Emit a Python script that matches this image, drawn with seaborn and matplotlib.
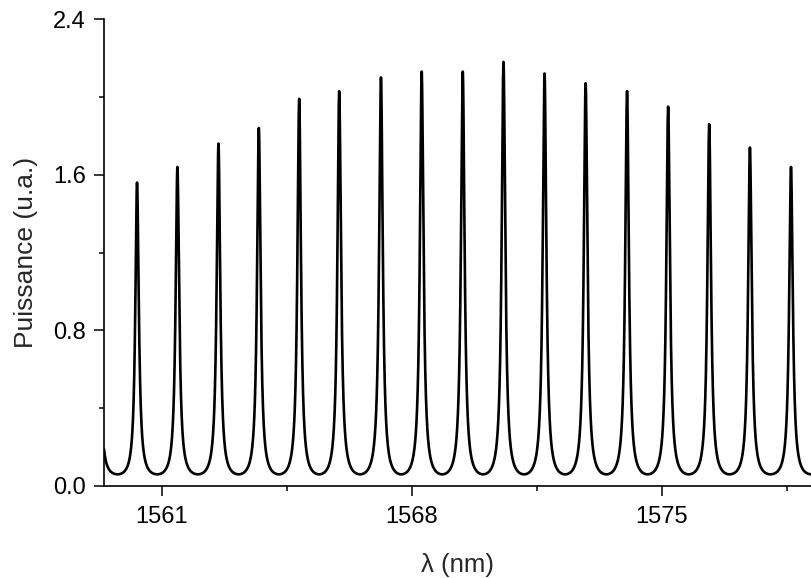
import numpy as np
import pandas as pd
import matplotlib
matplotlib.use("Agg")
import matplotlib.pyplot as plt
from matplotlib.ticker import FixedLocator
import seaborn as sns

# ---- data ----
peak_wavelengths = [1559.22, 1560.31, 1561.44, 1562.59, 1563.72, 1564.85, 1565.97,
                    1567.14, 1568.28, 1569.43, 1570.57, 1571.72, 1572.87, 1574.03,
                    1575.18, 1576.33, 1577.47, 1578.62, 1579.77]
peak_heights = [1.45, 1.56, 1.64, 1.76, 1.84, 1.99, 2.03, 2.10, 2.13, 2.13, 2.18,
                2.12, 2.07, 2.03, 1.95, 1.86, 1.74, 1.64, 1.55]
trough_level = 0.06
finesse_coef = 36.0
x_major_ticks = [1561, 1568, 1575]
x_minor_ticks = [1564.5, 1571.5, 1578.5]
y_major_ticks = [0.0, 0.8, 1.6, 2.4]
y_tick_labels = ["0.0", "0.8", "1.6", "2.4"]
y_minor_ticks = [0.4, 1.2, 2.0]
x_limits = (1559.385, 1579.18)
y_limits = (0.0, 2.4)

# ---- Fabry-Perot style spectrum from the measured peaks ----
p = np.array(peak_wavelengths)
h = np.array(peak_heights)
lam = np.linspace(x_limits[0], x_limits[1], 6000)
k = np.abs(lam[:, None] - p[None, :]).argmin(axis=1)
d = lam - p[k]
right_half = np.append(np.diff(p), np.diff(p)[-1]) / 2
left_half = np.insert(np.diff(p), 0, np.diff(p)[0]) / 2
half = np.where(d >= 0, right_half[k], left_half[k])
s2 = np.sin(np.pi / 2 * d / half) ** 2
airy = 1.0 / (1.0 + finesse_coef * s2)
amin = 1.0 / (1.0 + finesse_coef)
shape = (airy - amin) / (1.0 - amin)
power = trough_level + (h[k] - trough_level) * shape
df = pd.DataFrame({"lam": lam, "power": power})

sns.set_style("ticks")
plt.rcParams["font.family"] = ["Liberation Sans", "DejaVu Sans"]

fig = plt.figure(figsize=(8.11, 5.78), dpi=100)
ax = fig.add_axes([104 / 811, 92 / 578, (811 - 104) / 811, (486 - 19) / 578])
sns.lineplot(data=df, x="lam", y="power", ax=ax, color="black", linewidth=1.9,
             estimator=None, sort=False)

ax.set_xlim(*x_limits)
ax.set_ylim(*y_limits)
ax.xaxis.set_major_locator(FixedLocator(x_major_ticks))
ax.xaxis.set_minor_locator(FixedLocator(x_minor_ticks))
ax.yaxis.set_major_locator(FixedLocator(y_major_ticks))
ax.yaxis.set_minor_locator(FixedLocator(y_minor_ticks))
ax.set_xticklabels([str(t) for t in x_major_ticks])
ax.set_yticklabels(y_tick_labels)

for side in ["top", "right"]:
    ax.spines[side].set_visible(False)
for side in ["left", "bottom"]:
    ax.spines[side].set_linewidth(1.2)
    ax.spines[side].set_color("black")

ax.tick_params(which="major", direction="out", length=7.2, width=1.1,
               labelsize=17, color="black", labelcolor="black")
ax.tick_params(which="minor", direction="out", length=3.6, width=1.1, color="black")
ax.tick_params(axis="x", which="major", pad=7.5)
ax.tick_params(axis="y", which="major", pad=5.8)

ax.set_xlabel("λ (nm)", fontsize=18.5, labelpad=18)
ax.set_ylabel("Puissance (u.a.)", fontsize=19, labelpad=11)
ax.grid(False)

fig.savefig("out.png", dpi=100)
